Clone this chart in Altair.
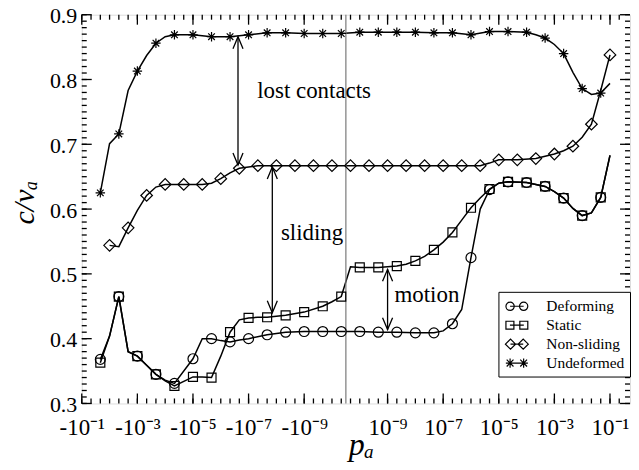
import json
import altair as alt
import numpy as np
import pandas as pd

# ---- x grid: p_a values (every 1/3 decade), negative branch then positive branch
PA = [-1e-1, -4.64e-2, -2.15e-2, -1e-2, -4.64e-3, -2.15e-3, -1e-3, -4.64e-4, -2.15e-4, -1e-4,
      -4.64e-5, -2.15e-5, -1e-5, -4.64e-6, -2.15e-6, -1e-6, -4.64e-7, -2.15e-7, -1e-7, -4.64e-8,
      -2.15e-8, -1e-8, -4.64e-9, -2.15e-9, -1e-9, -4.64e-10, -2.15e-10, -1e-10, -4.64e-11,
      4.64e-11, 1e-10, 2.15e-10, 4.64e-10, 1e-9, 2.15e-9, 4.64e-9, 1e-8, 2.15e-8, 4.64e-8,
      1e-7, 2.15e-7, 4.64e-7, 1e-6, 2.15e-6, 4.64e-6, 1e-5, 2.15e-5, 4.64e-5, 1e-4, 2.15e-4,
      4.64e-4, 1e-3, 2.15e-3, 4.64e-3, 1e-2, 2.15e-2, 4.64e-2, 1e-1]

N = None
DEFORMING = [N, N, .368, .404, .465, .380, .373, .359, .345, .336,
             .331, N, .369, .400, .400, .397, .395, .398, .400, N,
             .406, N, .410, N, .411, N, .411, N, .411, N,
             .411, N, .410, N, .410, N, .409, N, .409, .412,
             .423, .445, .525, .600, .630, .640, .642, N, .641, N,
             .635, .627, .617, .601, .590, .594, .618, .683]
STATIC = [N, N, .363, .404, .465, .380, .373, .359, .345, .335,
          .327, N, .341, .341, .340, .373, .410, .429, .432, .433,
          .433, N, .436, N, .441, N, .450, .457, .465, .511,
          .510, N, .510, N, .512, .515, .520, .527, .537, .549,
          .564, .583, .602, .617, .631, .640, .642, N, .641, N,
          .635, .627, .617, .601, .590, .594, .618, .683]
NON_SLIDING = [N, N, N, .544, .542, .571, .598, .621, .634, .638,
               N, .638, N, .638, .640, .647, .656, .663, N, .667,
               N, .667, N, .667, N, .667, N, .667, N, .667,
               N, .667, N, .667, N, .667, N, .667, N, .667,
               N, .667, N, .667, .671, .676, N, .676, N, .678,
               N, .685, .690, .697, .711, .731, .783, .838]
UNDEFORMED = [N, N, .625, .701, .716, .783, .813, .837, .856, .866,
              .869, N, .869, N, .866, N, .866, N, .869, N,
              .872, N, .872, N, .871, N, .871, N, .871, N,
              .873, N, .873, N, .873, N, .873, N, .872, N,
              .872, N, .869, N, .874, N, .874, N, .873, .869,
              .864, .854, .840, .811, .786, .777, .779, .794]

SERIES = ["Deforming", "Static", "Non-sliding", "Undeformed"]
VALUES = [DEFORMING, STATIC, NON_SLIDING, UNDEFORMED]
MARK_PARITY = [0, 0, 1, 0]          # markers on every other grid point
MARK_SHAPE = ["circle", "square", "diamond",
              "M0,-1L0,1M-1,0L1,0M-0.7,-0.7L0.7,0.7M-0.7,0.7L0.7,-0.7"]
MARK_SIZE = [100, 81, 135, 90]
LEGEND_SHAPE = [
    "M-1.29,0A0.49,0.49,0,1,1,-0.31,0A0.49,0.49,0,1,1,-1.29,0Z"
    "M0.31,0A0.49,0.49,0,1,1,1.29,0A0.49,0.49,0,1,1,0.31,0ZM-0.8,0L0.8,0",
    "M-1.29,-0.47H-0.35V0.47H-1.29ZM0.35,-0.47H1.29V0.47H0.35ZM-0.82,0L0.82,0",
    "M-1.35,0L-0.75,-0.6L-0.15,0L-0.75,0.6ZM0.15,0L0.75,-0.6L1.35,0L0.75,0.6ZM-0.75,0L0.75,0",
    "M-0.8,-0.55V0.55M-1.3,0H1.3M-1.2,-0.4L-0.4,0.4M-1.2,0.4L-0.4,-0.4"
    "M0.8,-0.55V0.55M0.4,-0.4L1.2,0.4M0.4,0.4L1.2,-0.4",
]

ARROW_P = [-2.4e-7, -1.4e-8, 1e-9]
ARROW_TOP = [0.866, 0.665, 0.507]
ARROW_BOTTOM = [0.668, 0.440, 0.414]

NOTE_TEXT = ["lost contacts", "sliding", "motion"]
NOTE_P = [-4.4e-10, -5.2e-10, 2.6e-8]
NOTE_V = [0.772, 0.553, 0.457]

X_MAJOR_P = [-1e-1, -1e-3, -1e-5, -1e-7, -1e-9, 1e-9, 1e-7, 1e-5, 1e-3, 1e-1]
X_MAJOR_LABELS = ["-10⁻¹", "-10⁻³", "-10⁻⁵", "-10⁻⁷", "-10⁻⁹",
                  "10⁻⁹", "10⁻⁷", "10⁻⁵", "10⁻³", "10⁻¹"]
X_MINOR_P = PA + [2.15e-1]
Y_MAJOR = [0.3, 0.4, 0.5, 0.6, 0.7, 0.8, 0.9]
Y_MINOR = [round(0.30 + 0.01 * k, 2) for k in range(61)]


def to_u(p):
    """mirrored log10 coordinate used by the x axis (p_a = 0 at the centre)."""
    if p == 0:
        return 0.0
    return round(float(np.sign(p) * (np.log10(abs(p)) + 10.5)), 4)


W, H = 550, 390
FONT = "Liberation Serif"

rows = []
for name, vals, par in zip(SERIES, VALUES, MARK_PARITY):
    for s, v in enumerate(vals):
        if v is not None:
            rows.append({"series": name, "u": to_u(PA[s]), "v": v, "mark": s % 2 == par})
df = pd.DataFrame(rows)

xs = alt.Scale(domain=[-9.5, 10.22], nice=False, zero=False)
ys = alt.Scale(domain=[0.3, 0.9], nice=False, zero=False)

major_u = [to_u(p) for p in X_MAJOR_P]
label_expr = (json.dumps(X_MAJOR_LABELS, ensure_ascii=False)
              + "[indexof(" + json.dumps(major_u) + ", datum.value)]")

ax_x = alt.Axis(values=major_u, labelExpr=label_expr, ticks=False, tickSize=0, domain=False,
                grid=False, labelFont=FONT, labelFontSize=23, labelColor="black",
                labelPadding=31, labelBaseline="alphabetic", labelFlush=False,
                labelOverlap=False, title="pₐ", titleFont=FONT, titleFontSize=32,
                titleFontStyle="italic", titleFontWeight="normal", titleColor="black",
                titleX=280, titleY=51, titleAlign="center", titleBaseline="alphabetic")
ax_y = alt.Axis(values=Y_MAJOR, format=".1f", ticks=False, tickSize=0, domain=False,
                grid=False, labelFont=FONT, labelFontSize=22, labelColor="black",
                labelPadding=5, labelBaseline="middle", labelOffset=1, title="c/vₐ",
                titleFont=FONT, titleFontSize=30, titleFontStyle="italic",
                titleFontWeight="normal", titleColor="black", titleAngle=270, titleX=-48,
                titleY=188, titleAlign="center", titleBaseline="alphabetic")

X = alt.X("u:Q", scale=xs, axis=ax_x)
Y = alt.Y("v:Q", scale=ys, axis=ax_y)

layers = []

# curves
layers.append(alt.Chart(df).mark_line(color="black", strokeWidth=1.5).encode(
    x=X, y=Y, detail="series:N", order="u:Q"))

# centre line at p_a = 0
layers.append(alt.Chart(pd.DataFrame({"u": [to_u(0)]})).mark_rule(
    color="#7a7a7a", strokeWidth=1.2).encode(x=X))

# markers
for name, shp, sz in zip(SERIES, MARK_SHAPE, MARK_SIZE):
    layers.append(alt.Chart(df).transform_filter(
        f"datum.series == '{name}' && datum.mark").mark_point(
        shape=shp, size=sz, filled=False, color="black", strokeWidth=1.2, opacity=1
    ).encode(x=X, y=Y))

# legend (symbols only, no plotted data)
legend_df = pd.DataFrame({"series": SERIES})
layers.append(alt.Chart(legend_df).transform_filter("false").mark_point(
    filled=False, color="black", strokeWidth=1.2, opacity=1).encode(
    shape=alt.Shape("series:N", scale=alt.Scale(domain=SERIES, range=LEGEND_SHAPE),
                    legend=alt.Legend(title=None, orient="none", legendX=418, legendY=278,
                                      padding=5, symbolSize=289, symbolStrokeWidth=1.2,
                                      symbolStrokeColor="black", symbolFillColor="transparent",
                                      labelFont=FONT, labelFontSize=15.5, labelColor="black",
                                      labelOffset=20, symbolOffset=4, rowPadding=1,
                                      strokeColor="black", fillColor="white"))))

# arrows
arr = pd.DataFrame({"u": [to_u(p) for p in ARROW_P], "v": ARROW_TOP, "v2": ARROW_BOTTOM})
layers.append(alt.Chart(arr).mark_rule(color="black", strokeWidth=1.3).encode(
    x=X, y=Y, y2="v2:Q"))
layers.append(alt.Chart(arr).mark_point(shape="M-0.42,1L0,0L0.42,1", size=576, filled=False,
                                        color="black", strokeWidth=1.3, opacity=1).encode(x=X, y=Y))
layers.append(alt.Chart(arr).mark_point(shape="M-0.42,-1L0,0L0.42,-1", size=576, filled=False,
                                        color="black", strokeWidth=1.3, opacity=1).encode(
    x=X, y=alt.Y("v2:Q", scale=ys, axis=ax_y)))

# annotation texts
notes = pd.DataFrame({"u": [to_u(p) for p in NOTE_P], "v": NOTE_V, "t": NOTE_TEXT})
layers.append(alt.Chart(notes).mark_text(font=FONT, fontSize=23, align="center",
                                         baseline="alphabetic", color="black").encode(
    x=X, y=Y, text="t:N"))

# inward ticks on all four sides
xmaj = pd.DataFrame({"u": major_u})
xmin = pd.DataFrame({"u": [to_u(p) for p in X_MINOR_P]})
ymaj = pd.DataFrame({"v": Y_MAJOR})
ymin = pd.DataFrame({"v": Y_MINOR})
for data, ln in ((xmaj, 10), (xmin, 5)):
    layers.append(alt.Chart(data).mark_rule(color="black", strokeWidth=1.3).encode(
        x=X, y=alt.value(H), y2=alt.value(H - ln)))
    layers.append(alt.Chart(data).mark_rule(color="black", strokeWidth=1.3).encode(
        x=X, y=alt.value(0), y2=alt.value(ln)))
for data, ln in ((ymaj, 10), (ymin, 5)):
    layers.append(alt.Chart(data).mark_rule(color="black", strokeWidth=1.3).encode(
        y=Y, x=alt.value(0), x2=alt.value(ln)))
    layers.append(alt.Chart(data).mark_rule(color="black", strokeWidth=1.3).encode(
        y=Y, x=alt.value(W), x2=alt.value(W - ln)))

chart = alt.layer(*layers).properties(
    width=W, height=H,
    autosize=alt.AutoSizeParams(type="none"),
    padding={"left": 74, "top": 6, "right": 1, "bottom": 58},
).configure_view(stroke="black", strokeWidth=1.8).configure(background="white")

chart.save("out.html", embed_options={"renderer": "svg", "actions": False})
